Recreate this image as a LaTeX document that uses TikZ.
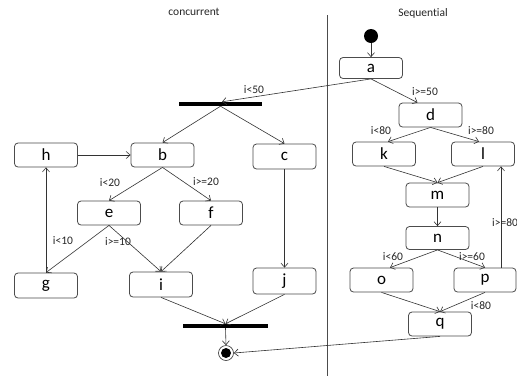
\documentclass[tikz,border=0pt]{standalone}
\usepackage{fontspec}
\setmainfont{Carlito}[Ligatures={NoCommon}]
\usetikzlibrary{arrows.meta}
\begin{document}
\begin{tikzpicture}[x=1pt,y=-1pt,
  box/.style={draw=black!70, line width=0.8pt, rounded corners=3.5pt, minimum width=63pt, minimum height=24pt, inner sep=0pt, font=\fontsize{17}{17}\selectfont, fill=white},
  edge/.style={draw=black!80, line width=0.6pt, -{Straight Barb[length=4pt,width=7pt]}},
  lab/.style={font=\fontsize{11.5}{12}\selectfont, text=black!85, inner sep=0pt},
  ttl/.style={font=\fontsize{11.5}{12}\selectfont, text=black!85, inner sep=0pt},
  bar/.style={fill=black, inner sep=0pt, minimum height=4pt}
]
\useasboundingbox (0,0) rectangle (517,376);
\fill[white] (0,0) rectangle (517,376);

% titles and divider
\node[ttl] (t1) at (194,12) {concurrent};
\node[ttl] (t2) at (423,13) {Sequential};
\coordinate (dtop) at (327,15);
\coordinate (dbot) at (327,376);
\draw[black!70, line width=0.8pt] (dtop) -- (dbot);

% sequential side
\node[circle, fill=black, minimum size=14pt, inner sep=0pt] (start) at (371,36) {};
\node[box, minimum height=21pt] (a) at (371,68) {a};
\node[box] (d) at (430.5,115) {d};
\node[box] (k) at (384,154) {k};
\node[box] (l) at (483,154) {l};
\node[box] (m) at (437.5,195) {m};
\node[box, minimum height=23pt] (n) at (437.5,238) {n};
\node[box] (o) at (381.5,280) {o};
\node[box, minimum width=62pt] (p) at (485,280) {p};
\node[box] (q) at (440,324) {q};

% concurrent side
\node[bar, minimum width=83pt] (fork) at (220.5,104) {};
\node[box] (h) at (46,155) {h};
\node[box] (b) at (162.5,155) {b};
\node[box, minimum height=25pt] (c) at (284.5,156.5) {c};
\node[box] (e) at (109,213) {e};
\node[box] (f) at (211,213) {f};
\node[box, minimum height=25pt] (g) at (46,285.5) {g};
\node[box, minimum height=25pt] (i) at (161,284.5) {i};
\node[box, minimum height=26pt] (j) at (284.5,281) {j};
\node[bar, minimum width=85pt] (join) at (225.5,326) {};
\node[circle, draw=black!80, line width=0.6pt, minimum size=15pt, inner sep=0pt] (end) at (226,353) {};
\node[circle, fill=black, minimum size=10pt, inner sep=0pt] (endin) at (end) {};

% edges sequential
\draw[edge] (start) -- (a);
\draw[edge] (a.south) -- ([xshift=1.5pt]fork.north);
\node[lab] (l50) at (254,90) {i<50};
\draw[edge] (a.south) -- ([xshift=-13pt]d.north);
\node[lab] (g50) at (425,92) {i>=50};
\draw[edge] (d.south) -- ([xshift=4pt]k.north);
\node[lab] (l80) at (381,131) {i<80};
\draw[edge] (d.south) -- ([xshift=-4pt]l.north);
\node[lab] (g80) at (481,131) {i>=80};
\draw[edge] (k.south) -- (m.north);
\draw[edge] (l.south) -- (m.north);
\draw[edge] (m) -- (n);
\draw[edge] (n.south) -- ([xshift=8.5pt]o.north);
\node[lab] (l60) at (393,257) {i<60};
\draw[edge] (n.south) -- (p.north);
\node[lab] (g60) at (472,257) {i>=60};
\draw[edge] (o.south) -- (q.north);
\draw[edge] (p.south) -- (q.north);
\node[lab] (l80b) at (481,306) {i<80};
\draw[edge] ([xshift=16pt]p.north) -- ([xshift=16pt]p.north |- l.south);
\node[lab, anchor=west] (g80b) at (492,223) {i>=80};
\draw[edge] (q.south) -- (end.east);

% edges concurrent
\draw[edge] (fork.south) -- (b.north);
\draw[edge] (fork.south) -- (c.north);
\draw[edge] (h) -- (b);
\draw[edge] (b.south) -- (e.north);
\node[lab] (l20) at (110,183) {i<20};
\draw[edge] (b.south) -- (f.north);
\node[lab] (g20) at (206,182) {i>=20};
\draw[edge] (e.south) -- (g.north);
\node[lab] (l10) at (63,241) {i<10};
\draw[edge] (e.south) -- (i.north);
\node[lab] (g10) at (118,242) {i>=10};
\draw[edge] (f.south) -- (i.north);
\draw[edge] (g) -- (h);
\draw[edge] (c) -- (j);
\draw[edge] (i.south) -- (join.north);
\draw[edge] (j.south) -- (join.north);
\draw[edge] (join.south) -- (end.north);
\end{tikzpicture}
\end{document}
